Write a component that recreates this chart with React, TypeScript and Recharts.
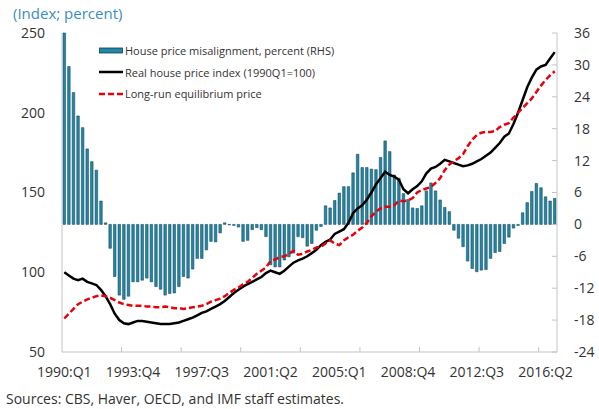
import { ComposedChart, Bar, Line, XAxis, YAxis, Legend } from "recharts"

// quarters 1990:Q1 .. 2016:Q4
const years = [1990, 1991, 1992, 1993, 1994, 1995, 1996, 1997, 1998, 1999, 2000, 2001, 2002, 2003, 2004, 2005, 2006, 2007, 2008, 2009, 2010, 2011, 2012, 2013, 2014, 2015, 2016]
const quarters: string[] = []
years.forEach((y) => ["Q1", "Q2", "Q3", "Q4"].forEach((q) => quarters.push(`${y}:${q}`)))

const xLabels = ["1990:Q1", "1993:Q4", "1997:Q3", "2001:Q2", "2005:Q1", "2008:Q4", "2012:Q3", "2016:Q2"]
const leftTicks = [50, 100, 150, 200, 250]
const rightTicks = [-24, -18, -12, -6, 0, 6, 12, 18, 24, 30, 36]

// house price misalignment, percent (RHS)
const misalignment = [
  36, 29.7, 24.8, 20.4, 18.2, 14.2, 11.8, 10.2, 4.4, 0.3,
  -4.5, -9.8, -13.3, -14.1, -13.5, -10.8, -10.8, -10.5, -10.1, -10.8,
  -11.7, -12.2, -13.3, -13.0, -12.9, -11.7, -9.8, -10.1, -8.4, -6.4,
  -6.4, -4.8, -3.2, -3.3, -1.6, 0.3, -0.1, -0.2, -0.5, -3.2,
  -3.0, -1.0, -0.6, -1.0, -2.3, -7.6, -8.0, -8.0, -6.7, -6.1,
  -5.4, -2.3, -2.5, -4.1, -3.6, -1.1, -0.4, 3.5, 3.1, 4.5,
  5.9, 7.1, 7.1, 9.7, 13.2, 10.7, 10.7, 10.4, 10.3, 12.6,
  15.7, 13.7, 9.3, 8.7, 5.8, 4.7, 3.1, 3.0, 3.5, 6.3,
  7.8, 6.3, 4.6, 3.2, 2.4, -1.1, -2.6, -4.2, -6.9, -8.3,
  -8.9, -8.6, -8.5, -6.4, -5.3, -5.1, -3.6, -2.4, -0.7, -0.2,
  2.2, 4.1, 6.2, 7.7, 6.9, 5.2, 4.4, 4.9,
]

// real house price index (1990Q1=100)
const realIndex = [
  100, 98, 96, 95, 96, 94, 93, 92, 89, 85,
  80, 74, 70, 68, 67.5, 68.5, 69.5, 69.5, 69, 68.5,
  68, 67.5, 67.5, 67.5, 68, 68.5, 69.5, 70.5, 71.5, 73,
  74.5, 75.5, 77, 78.5, 80, 82, 84.5, 87, 89, 91,
  92.5, 94, 95.5, 97, 99.5, 101, 100, 99, 101, 103.5,
  106, 107.5, 108.5, 110, 112, 114, 117, 119, 120.5, 124,
  125.5, 127, 131, 137, 140, 142, 145.5, 150, 155, 159,
  163, 161, 160, 158, 152, 149.5, 152, 154, 157, 162,
  165, 166, 168, 170.5, 169.5, 168.5, 167.5, 166.5, 167, 168,
  169.5, 171, 173, 175, 178, 181, 185, 187, 193, 200,
  208, 216, 222, 227, 229, 230, 234, 238,
]

// long-run equilibrium price
const equilibrium = [
  71, 74, 77, 80, 81.5, 83, 84, 85, 85.5, 85,
  84, 82.5, 81, 80, 79.5, 79, 79, 79, 78.5, 78.5,
  78, 78, 78.5, 78, 77.5, 77.5, 77, 77.5, 78, 78.5,
  79, 80, 81.5, 82.5, 83.5, 85, 87, 89, 90.5, 92.5,
  94, 96.5, 99, 101, 103, 107, 108, 109.5, 110, 111.5,
  113.5, 111, 111.5, 113, 114, 115.5, 116, 118, 120, 118,
  117, 120, 122, 123.5, 126, 128, 131, 135, 138, 140,
  141, 141, 142, 145, 144.5, 145, 146.5, 150, 151.5, 152.5,
  153.5, 156, 159, 164, 167.5, 169.5, 171.5, 174, 179, 183,
  186, 187.5, 188, 188, 188.5, 191, 192.5, 193.5, 197, 200,
  203, 206, 209, 213, 217, 220.5, 223.5, 226,
]

const data = quarters.map((q, i) => ({
  q,
  gap: misalignment[i],
  real: realIndex[i],
  eq: equilibrium[i],
}))

const font = "'Open Sans', 'Noto Sans', sans-serif"
const axisGray = "#c4c4c4"
const textColor = "#333"

function XTick(props: any) {
  const { x, y, payload, index } = props
  return (
    <g>
      {index % 13 === 0 && index > 0 && (
        <line x1={x - 2.3} x2={x - 2.3} y1={y} y2={y - 5} stroke={axisGray} />
      )}
      {xLabels.includes(payload.value) && (
        <text x={x} y={y + 25} textAnchor="middle" fontSize={14} fill={textColor} fontFamily={font}>
          {payload.value}
        </text>
      )}
    </g>
  )
}

function ChartLegend() {
  const row = { display: "flex", alignItems: "center", height: 21.5 } as const
  const label = { fontSize: 11, color: textColor, marginLeft: 2, whiteSpace: "nowrap" } as const
  return (
    <div style={{ fontFamily: font }}>
      <div style={row}>
        <svg width={24} height={8}>
          <rect x={0.5} y={1} width={23} height={5} fill="#1f87a8" stroke="#163d4a" strokeWidth={0.8} />
        </svg>
        <span style={label}>House price misalignment, percent (RHS)</span>
      </div>
      <div style={row}>
        <svg width={24} height={8}>
          <line x1={0} x2={24} y1={4} y2={4} stroke="#000" strokeWidth={2.5} />
        </svg>
        <span style={label}>Real house price index (1990Q1=100)</span>
      </div>
      <div style={row}>
        <svg width={24} height={8}>
          <line x1={0} x2={24} y1={4} y2={4} stroke="#e8000b" strokeWidth={2.5} strokeDasharray="6 3" />
        </svg>
        <span style={label}>Long-run equilibrium price</span>
      </div>
    </div>
  )
}

export default function App() {
  return (
    <div style={{ position: "absolute", left: 0, top: 0, width: 599, height: 409, background: "#fff", fontFamily: font }}>
      <div style={{ position: "absolute", left: 13, top: 4, fontSize: 15, lineHeight: "18px", color: "#3a8dc2" }}>
        (Index; percent)
      </div>
      <ComposedChart width={599} height={392} data={data} margin={{ top: 33, right: 0, bottom: 0, left: 0 }}>
        <XAxis
          dataKey="q"
          height={40}
          interval={0}
          tickSize={0}
          tickMargin={0}
          tickLine={false}
          axisLine={{ stroke: axisGray }}
          tick={<XTick />}
        />
        <XAxis xAxisId="top" dataKey="q" orientation="top" height={0} tick={false} tickLine={false} axisLine={{ stroke: axisGray }} />
        <YAxis
          yAxisId="left"
          width={62}
          domain={[50, 250]}
          ticks={leftTicks}
          interval={0}
          tickSize={0}
          tickMargin={17}
          tickLine={false}
          axisLine={{ stroke: axisGray }}
          tick={{ fontSize: 14, fill: textColor, fontFamily: font }}
        />
        <YAxis
          yAxisId="right"
          orientation="right"
          width={42}
          domain={[-24, 36]}
          ticks={rightTicks}
          interval={0}
          tickSize={-5}
          tickMargin={22}
          tickLine={{ stroke: axisGray }}
          axisLine={{ stroke: axisGray }}
          tick={{ fontSize: 14, fill: textColor, fontFamily: font }}
        />
        <Legend
          layout="horizontal"
          verticalAlign="middle"
          align="center"
          content={<ChartLegend />}
          wrapperStyle={{ position: "absolute", left: 99, top: 40, width: "auto", height: "auto" }}
        />
        <Bar
          yAxisId="right"
          dataKey="gap"
          barSize={2.6}
          fill="#1f87a8"
          stroke="#163d4a"
          strokeWidth={0.5}
          isAnimationActive={false}
        />
        <Line
          yAxisId="left"
          dataKey="real"
          type="linear"
          stroke="#000"
          strokeWidth={2.5}
          dot={false}
          isAnimationActive={false}
        />
        <Line
          yAxisId="left"
          dataKey="eq"
          type="linear"
          stroke="#e8000b"
          strokeWidth={2.5}
          strokeDasharray="6 3"
          dot={false}
          isAnimationActive={false}
        />
      </ComposedChart>
      <div style={{ position: "absolute", left: 6, top: 389, fontSize: 14, color: textColor }}>
        Sources: CBS, Haver, OECD, and IMF staff estimates.
      </div>
    </div>
  )
}
